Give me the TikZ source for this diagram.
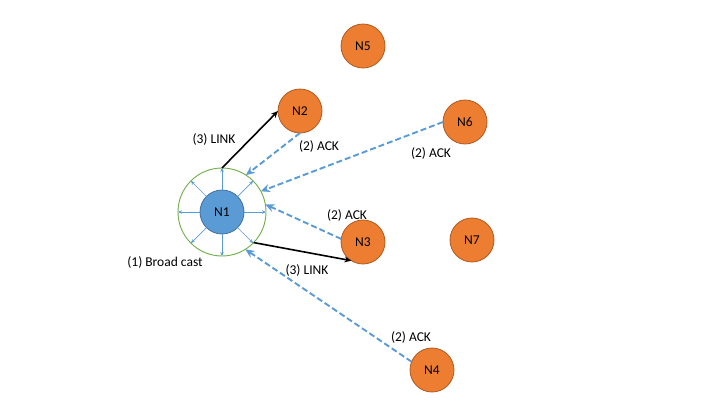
\documentclass[tikz,border=0pt]{standalone}
\usepackage{fontspec}
\setmainfont{Carlito}
\usetikzlibrary{arrows.meta}
\definecolor{nodeblue}{HTML}{5B9BD5}
\definecolor{nodeblueedge}{HTML}{41719C}
\definecolor{nodeorange}{HTML}{ED7D31}
\definecolor{nodeorangeedge}{HTML}{AE5A21}
\definecolor{ringgreen}{HTML}{70AD47}
\tikzset{
  basenode/.style={circle, minimum size=44pt, inner sep=0pt, outer sep=0pt,
    font=\fontsize{13.5}{15}\selectfont, line width=0.8pt},
  source/.style={basenode, fill=nodeblue, draw=nodeblueedge},
  peer/.style={basenode, fill=nodeorange, draw=nodeorangeedge},
  ring/.style={circle, minimum size=88pt, inner sep=0pt, outer sep=0pt,
    draw=ringgreen, line width=0.9pt},
  bcast/.style={draw=nodeblue, line width=0.7pt, -{Stealth[length=4pt,width=3.5pt]}},
  link/.style={draw=black, line width=1.6pt, -{Stealth[length=7pt,width=6pt]}},
  ack/.style={draw=nodeblue, line width=1.9pt, dash pattern=on 6pt off 3pt,
    -{Stealth[length=9pt,width=8pt]}},
  lbl/.style={font=\fontsize{13.5}{15}\selectfont, inner sep=0pt}
}
\begin{document}
\begin{tikzpicture}[x=1pt, y=-1pt]
  \useasboundingbox (0,0) rectangle (720,405);

  % broadcast range around the source node
  \node[ring] (ring) at (222,212) {};
  \node[source] (n1) at (222,212) {N1};

  % neighbouring nodes
  \node[peer] (n2) at (300,111) {N2};
  \node[peer] (n3) at (363,242) {N3};
  \node[peer] (n4) at (432,370) {N4};
  \node[peer] (n5) at (363,46)  {N5};
  \node[peer] (n6) at (465,122) {N6};
  \node[peer] (n7) at (472,240) {N7};

  % (1) broadcast rays
  \foreach \a in {0,45,...,315}
    \draw[bcast] (n1.\a) -- (ring.\a);

  % (2) acknowledgements
  \draw[ack] (n2.-90) -- (ring.57);
  \draw[ack] (n6.180) -- (ring.28);
  \draw[ack] (n3.172) -- (ring.10);
  \draw[ack] (n4.158) -- (ring.-58);

  % (3) links
  \draw[link] (ring.90) -- (n2.west);
  \draw[link] (ring.-44) -- (n3.238);

  % labels
  \node[lbl] (l1) at (214,139) {(3) LINK};
  \node[lbl] (l2) at (319,146) {(2) ACK};
  \node[lbl] (l3) at (431,153) {(2) ACK};
  \node[lbl] (l4) at (347,215) {(2) ACK};
  \node[lbl] (l5) at (307,270) {(3) LINK};
  \node[lbl] (l6) at (411,337) {(2) ACK};
  \node[lbl] (l7) at (165,262) {(1) Broad cast};
\end{tikzpicture}
\end{document}
